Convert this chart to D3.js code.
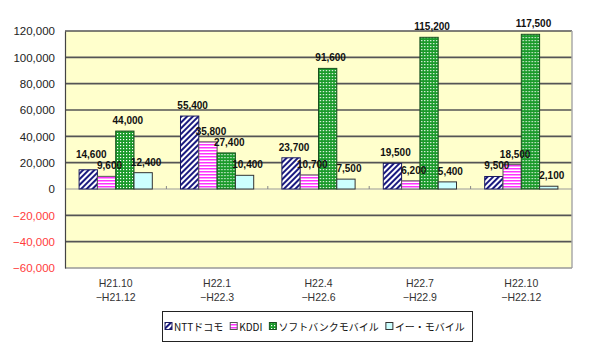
<!DOCTYPE html>
<html><head><meta charset="utf-8">
<script src="https://cdn.jsdelivr.net/npm/d3@7"></script>
<style>body{margin:0;background:#fff}svg{display:block}</style>
</head><body>
<svg id="c" width="600" height="356"></svg>
<script>
const categories = [["H21.10","−H21.12"],["H22.1","−H22.3"],["H22.4","−H22.6"],["H22.7","−H22.9"],["H22.10","−H22.12"]];
const seriesNames = ["NTTドコモ","KDDI","ソフトバンクモバイル","イー・モバイル"];
const nttValues = [14600, 55400, 23700, 19500, 9500];
const kddiValues = [9600, 35800, 10700, 6200, 18500];
const softbankValues = [44000, 27400, 91600, 115200, 117500];
const emobileValues = [12400, 10400, 7500, 5400, 2100];
const yTicks = [-60000,-40000,-20000,0,20000,40000,60000,80000,100000,120000];

const seriesValues = [nttValues, kddiValues, softbankValues, emobileValues];
const svg = d3.select("#c");
const defs = svg.append("defs");

// patterns
const p1 = defs.append("pattern").attr("id","pNTT").attr("patternUnits","userSpaceOnUse").attr("width",4).attr("height",4).attr("patternTransform","rotate(45)");
p1.append("rect").attr("width",4).attr("height",4).attr("fill","#fff");
p1.append("rect").attr("width",2).attr("height",4).attr("fill","#1a1a80");
const p2 = defs.append("pattern").attr("id","pKDDI").attr("patternUnits","userSpaceOnUse").attr("width",3).attr("height",3);
p2.append("rect").attr("width",3).attr("height",3).attr("fill","#fff");
p2.append("rect").attr("width",3).attr("height",1.5).attr("fill","#ff33ff");
const p3 = defs.append("pattern").attr("id","pSB").attr("patternUnits","userSpaceOnUse").attr("width",3).attr("height",3);
p3.append("rect").attr("width",3).attr("height",3).attr("fill","#1a9a2a");
p3.append("rect").attr("x",1).attr("y",1).attr("width",1.2).attr("height",1.2).attr("fill","#fff");
const fills = ["url(#pNTT)","url(#pKDDI)","url(#pSB)","#ccffff"];
const strokes = ["#1a1a60","#555","#1a5020","#333"];

const L = 65, R = 572, T = 31, B = 268;
const x0 = d3.scaleBand().domain(d3.range(categories.length)).range([L,R]).paddingInner(0).paddingOuter(0);
const x1 = d3.scaleBand().domain(d3.range(seriesNames.length)).range([0,x0.bandwidth()]).paddingInner(0).paddingOuter(0.77);
const y = d3.scaleLinear().domain([-60000,120000]).range([B,T]);

// plot background
svg.append("rect").attr("x",L).attr("y",T).attr("width",R-L).attr("height",B-T).attr("fill","#ffffcc");
// gridlines
svg.append("g").selectAll("line").data(yTicks.filter(v=>v!==0 && v!==-60000)).join("line")
  .attr("x1",L).attr("x2",R).attr("y1",d=>y(d)).attr("y2",d=>y(d))
  .attr("stroke","#555").attr("stroke-width",1.6);
// plot border right/bottom
svg.append("line").attr("x1",R).attr("x2",R).attr("y1",T).attr("y2",B).attr("stroke","#aaa").attr("stroke-width",1.5);
svg.append("line").attr("x1",L).attr("x2",R).attr("y1",B).attr("y2",B).attr("stroke","#999").attr("stroke-width",1.5);
// zero line
svg.append("line").attr("x1",L).attr("x2",R).attr("y1",y(0)).attr("y2",y(0)).attr("stroke","#999").attr("stroke-width",1);
// category ticks on zero line
svg.append("g").selectAll("line").data(d3.range(1,categories.length)).join("line")
  .attr("x1",d=>x0(d)).attr("x2",d=>x0(d)).attr("y1",y(0)).attr("y2",y(0)-3).attr("stroke","#888");

// y axis
const yAxis = d3.axisLeft(y).tickValues(yTicks).tickSize(0).tickPadding(10).tickFormat(d3.format(","));
const ya = svg.append("g").attr("transform",`translate(${L},0)`).call(yAxis);
ya.select(".domain").attr("stroke","#444").attr("stroke-width",1.2);
ya.selectAll("text").attr("font-family","Liberation Sans, Arial, sans-serif").attr("font-size",11.5)
  .attr("fill",d=>d<0?"#ff3b3b":"#222");

// bars
const groups = svg.append("g").selectAll("g").data(categories.map((c,i)=>i)).join("g")
  .attr("transform",i=>`translate(${x0(i)},0)`);
groups.selectAll("rect").data(i=>seriesValues.map((vals,s)=>({s,v:vals[i]}))).join("rect")
  .attr("x",d=>x1(d.s)).attr("width",x1.bandwidth())
  .attr("y",d=>y(Math.max(0,d.v))).attr("height",d=>Math.abs(y(d.v)-y(0)))
  .attr("fill",d=>fills[d.s]).attr("stroke",d=>strokes[d.s]).attr("stroke-width",1);

// labels with simple collision avoidance (right to left; left label moves up)
groups.each(function(i){
  const g = d3.select(this);
  const placed = [];
  for (let s = seriesValues.length-1; s >= 0; s--) {
    const v = seriesValues[s][i];
    const t = g.append("text")
      .attr("x",x1(s)+x1.bandwidth()/2+3)
      .attr("text-anchor","middle").attr("font-family","Liberation Sans, Arial, sans-serif")
      .attr("font-size",10).attr("font-weight","bold").attr("fill","#111")
      .text(d3.format(",")(v));
    const w = t.node().getComputedTextLength();
    const cx = x1(s)+x1.bandwidth()/2+3;
    let base = y(v)-7;
    let moved = true;
    while (moved) {
      moved = false;
      for (const p of placed) {
        const ox = !(cx+w/2 < p.x0 || cx-w/2 > p.x1);
        const oy = !(base < p.b-10 || base-10 > p.b);
        if (ox && oy) { base = p.b - 11; moved = true; }
      }
    }
    t.attr("y",base);
    placed.push({x0:cx-w/2-1, x1:cx+w/2+1, b:base});
  }
});

// x labels
const xl = svg.append("g").selectAll("text").data(categories).join("text")
  .attr("x",(d,i)=>x0(i)+x0.bandwidth()/2).attr("y",287)
  .attr("text-anchor","middle").attr("font-family","Liberation Sans, Arial, sans-serif")
  .attr("font-size",10.5).attr("fill","#333");
xl.append("tspan").attr("x",(d,i)=>x0(i)+x0.bandwidth()/2).text(d=>d[0]);
xl.append("tspan").attr("x",(d,i)=>x0(i)+x0.bandwidth()/2).attr("dy",14).text(d=>d[1]);

// legend
const lg = svg.append("g");
lg.append("rect").attr("x",162.5).attr("y",311.5).attr("width",310).attr("height",30).attr("fill","#fff").attr("stroke","#222");
const item = lg.selectAll("g").data(seriesNames).join("g");
let cx = 165;
item.each(function(name,i){
  const g = d3.select(this);
  g.append("rect").attr("x",cx).attr("y",322.5).attr("width",7).attr("height",7)
    .attr("fill",fills[i]).attr("stroke",strokes[i]).attr("stroke-width",1);
  const t = g.append("text").attr("x",cx+9).attr("y",330.5).attr("font-family","Noto Sans CJK JP, sans-serif")
    .attr("font-size",10).attr("fill","#111").text(name);
  cx += 9 + t.node().getComputedTextLength() + 7;
});
</script>
</body></html>
